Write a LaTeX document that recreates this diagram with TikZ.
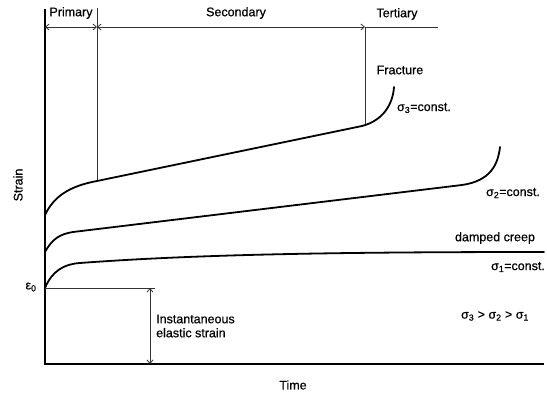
\documentclass[tikz,border=0pt]{standalone}
\usepackage{fontspec}
\setmainfont{Liberation Sans}
\newfontfamily\lblfont[FakeBold=0.6]{Liberation Sans}
\usetikzlibrary{arrows.meta}
\begin{document}
\begin{tikzpicture}[x=1pt,y=-1pt,
    lbl/.style={font=\lblfont\fontsize{12.5}{14}\selectfont, inner sep=0pt},
    axis/.style={line width=1.7pt},
    curve/.style={line width=1.8pt, line cap=round},
    guide/.style={line width=0.8pt, black!80},
    dim/.style={guide, {Straight Barb[length=3.5pt,width=6pt]}-{Straight Barb[length=3.5pt,width=6pt]}},
    dimr/.style={guide, -{Straight Barb[length=3.5pt,width=6pt]}}]
    \useasboundingbox (0,0) rectangle (547,399);

    % Axes
    \coordinate (top) at (45,9);
    \coordinate (orig) at (45,364);
    \coordinate (xend) at (544,364);
    \draw[axis] (top) -- (orig) -- (xend);
    \node[lbl, rotate=90] (strain) at (18,185) {Strain};
    \node[lbl] (time) at (293,385) {Time};

    % Stage boundaries and the top scale
    \coordinate (p0) at (45,27);
    \coordinate (p1) at (97,27);
    \coordinate (p2) at (365,27);
    \coordinate (p3) at (438,27);
    \draw[guide] (97,8) -- (97,181);
    \draw[guide] (p2) -- (365,125);
    \draw[dim] (p0) -- (p1);
    \draw[dim] (p1) -- (p2);
    \draw[guide] (p2) -- (p3);
    \node[lbl] (primary) at (71,13) {Primary};
    \node[lbl] (secondary) at (236,13) {Secondary};
    \node[lbl] (tertiary) at (397,14) {Tertiary};

    % Creep curves
    \draw[curve] (45,215) .. controls (54,196) and (70,186) .. (97,181)
        -- (362,126) .. controls (385,120) and (393,102) .. (394,87);
    \draw[curve] (45,252) .. controls (52,239) and (60,234) .. (73,232)
        -- (462,185) .. controls (490,181) and (498,165) .. (500,147);
    \draw[curve] (45,288) .. controls (52,271) and (64,264) .. (80,263)
        .. controls (200,254) and (350,252) .. (544,252);

    \node[lbl] (fracture) at (400,70) {Fracture};
    \node[lbl] (s3) at (424,108) {σ\textsubscript{3}=const.};
    \node[lbl] (s2) at (513,193) {σ\textsubscript{2}=const.};
    \node[lbl] (damped) at (495,238) {damped creep};
    \node[lbl] (s1) at (518,267) {σ\textsubscript{1}=const.};
    \node[lbl] (order) at (495,316) {σ\textsubscript{3} > σ\textsubscript{2} > σ\textsubscript{1}};

    % Instantaneous elastic strain
    \coordinate (e0) at (45,288);
    \coordinate (eend) at (155,288);
    \draw[guide] (e0) -- (eend);
    \coordinate (ea) at (150,288);
    \coordinate (eb) at (150,364);
    \draw[dim] (ea) -- (eb);
    \node[lbl] (eps) at (31,287) {ε\textsubscript{0}};
    \node[lbl, anchor=west, align=left] (inst) at (156,326) {Instantaneous\\elastic strain};
\end{tikzpicture}
\end{document}
